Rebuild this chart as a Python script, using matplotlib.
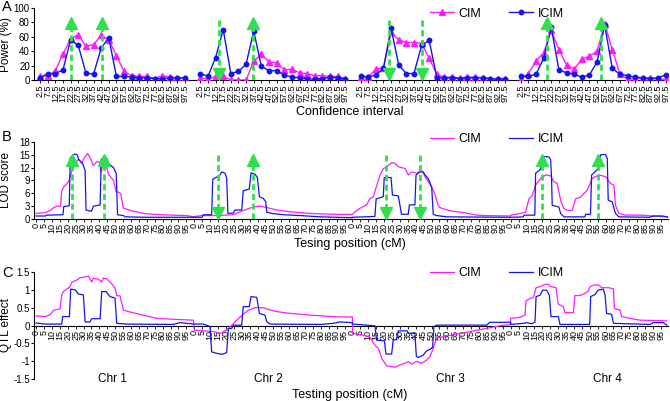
import matplotlib
matplotlib.use("Agg")
import matplotlib.pyplot as plt

plt.rcParams['font.family'] = ['Liberation Sans', 'DejaVu Sans']
plt.rcParams['axes.unicode_minus'] = False

# ---------------- data ----------------
chrom_names = ['Chr 1', 'Chr 2', 'Chr 3', 'Chr 4']
ci_labels = ['2.5', '7.5', '12.5', '17.5', '22.5', '27.5', '32.5', '37.5', '42.5', '47.5',
             '52.5', '57.5', '62.5', '67.5', '72.5', '77.5', '82.5', '87.5', '92.5', '97.5']
ci_mid = [2.5, 7.5, 12.5, 17.5, 22.5, 27.5, 32.5, 37.5, 42.5, 47.5,
          52.5, 57.5, 62.5, 67.5, 72.5, 77.5, 82.5, 87.5, 92.5, 97.5]
pos_ticks = [0, 5, 10, 15, 20, 25, 30, 35, 40, 45, 50, 55, 60, 65, 70, 75, 80, 85, 90, 95]

# power (%) per confidence interval
power_cim_chr1 = [6, 5, 13, 36, 57, 63, 47, 49, 62, 56, 34, 12, 6, 5, 5, 2, 6, 4, 3, 3]
power_cim_chr2 = [3, 1, 5, 5, 0, 0, 0, 26, 36, 25, 24, 14, 15, 10, 9, 6, 6, 5, 5, 2]
power_cim_chr3 = [4, 4, 15, 17, 66, 56, 52, 52, 51, 30, 8, 4, 4, 3, 4, 4, 3, 2, 1, 1]
power_cim_chr4 = [2, 9, 26, 38, 69, 42, 21, 15, 29, 33, 40, 78, 42, 8, 1, 2, 3, 3, 1, 1]
power_icim_chr1 = [3, 9, 9, 14, 56, 48, 10, 8, 44, 59, 5, 5, 4, 3, 3, 2, 2, 3, 3, 3]
power_icim_chr2 = [9, 5, 31, 70, 9, 12, 22, 68, 19, 13, 13, 7, 4, 3, 2, 1, 2, 4, 3, 1]
power_icim_chr3 = [6, 4, 7, 16, 72, 21, 9, 9, 48, 55, 3, 3, 3, 2, 3, 3, 3, 2, 1, 2]
power_icim_chr4 = [5, 5, 8, 30, 73, 14, 10, 8, 4, 7, 25, 76, 16, 8, 6, 4, 3, 2, 3, 7]

# LOD profiles (position cM, LOD)
lod_cim_chr1 = [(0, 1.3), (5.7, 1.5), (9, 2.0), (11, 2.6), (13, 3.0), (15.5, 3.0), (16.2, 6.5),
                (17.5, 7.5), (20.5, 8.7), (22.5, 11.0), (24, 12.5), (26.8, 14.0), (29, 13.0),
                (30, 14.0), (32.5, 15.3), (34, 14.5), (36.2, 12.5), (38.3, 13.4), (40, 13.3),
                (41, 11.0), (42.2, 12.5), (44.5, 12.4), (45.7, 10.5), (49, 9.0), (50.5, 6.5),
                (53.5, 6.0), (55.2, 2.5), (57.3, 2.3), (61.5, 1.8), (68, 1.3), (78, 1.0),
                (95, 0.8), (100, 0.5)]
lod_cim_chr2 = [(0, 0.6), (5, 0.8), (15, 0.8), (24.7, 1.0), (31, 2.0), (37.3, 2.8), (41.6, 3.0),
                (45.8, 2.7), (52.1, 2.1), (60.5, 1.7), (73.2, 1.3), (88, 1.1), (100, 1.1)]
lod_cim_chr3 = [(0, 1.1), (1.5, 1.6), (4.8, 2.5), (9, 3.3), (11, 4.7), (13.2, 5.2), (15.4, 7.9),
                (17.5, 10.3), (19.6, 11.8), (21.7, 12.2), (24.9, 13.2), (27, 13.0), (29.1, 12.2),
                (33.3, 11.8), (35.4, 10.3), (37.5, 11.0), (40.7, 10.7), (43.8, 11.4), (45.9, 9.9),
                (48, 8.7), (50.2, 7.5), (52.3, 5.6), (54.4, 2.9), (56.5, 2.5), (61.8, 1.9),
                (70.2, 1.5), (78.6, 0.9), (85, 0.8), (100, 0.7)]
lod_cim_chr4 = [(0, 0.9), (6.3, 1.3), (9.5, 1.6), (11.6, 4.7), (13.7, 5.5), (15.8, 7.9), (19, 9.5),
                (22.1, 10.3), (25.3, 10.1), (27.4, 8.7), (29.5, 8.3), (31.6, 4.4), (33.5, 2.5),
                (35.8, 2.0), (39, 2.0), (41.1, 4.7), (44.2, 5.1), (46.3, 5.9), (48.4, 6.7),
                (51.6, 9.5), (55.8, 10.3), (60, 9.9), (63.2, 8.3), (65.3, 7.9), (66.3, 3.2),
                (68.4, 1.3), (72.6, 0.9), (83.1, 0.9), (89.4, 0.7), (100, 0.5)]
lod_icim_chr1 = [(0, 0.7), (6, 0.7), (6.5, 0.9), (17, 1.0), (17.5, 2.9), (21, 3.1), (21.6, 14.3),
                 (24.5, 15.2), (26, 15.0), (27, 13.9), (29.5, 12.9), (31, 11.4), (31.6, 2.1),
                 (35, 1.8), (36.3, 3.0), (40.5, 3.3), (41.2, 14.0), (44.7, 14.2), (45.8, 13.0),
                 (49, 12.0), (50.7, 10.6), (51.5, 1.0), (55.2, 0.8), (56.5, 0.5), (70, 0.4),
                 (100, 0.4)]
lod_icim_chr2 = [(0, 0.4), (5, 0.4), (5.7, 1.0), (11, 1.0), (11.7, 9.3), (14.2, 9.8), (16, 10.2),
                 (17.4, 11.0), (19.5, 10.7), (20.5, 9.5), (21.3, 1.3), (24.7, 1.4), (25.8, 2.1),
                 (30, 2.1), (31, 6.6), (34.8, 7.0), (35.9, 10.8), (38.4, 10.5), (39.9, 9.7),
                 (41.2, 5.2), (43.7, 4.8), (45.2, 4.0), (45.8, 1.6), (49, 1.3), (56.4, 1.0),
                 (67, 0.8), (80, 0.5), (100, 0.3)]
lod_icim_chr3 = [(0, 0.4), (14.2, 0.6), (15, 4.7), (19.5, 5.2), (20.1, 9.7), (24.4, 9.7),
                 (25.3, 5.6), (29, 5.4), (30, 3.3), (31, 1.1), (35.3, 1.1), (36, 3.3), (39.5, 3.3),
                 (40.2, 10.3), (42.7, 11.0), (44.8, 11.0), (45.9, 10.3), (48, 9.4), (50.1, 7.4),
                 (51.1, 1.1), (53.2, 0.8), (60, 0.5), (100, 0.4)]
lod_icim_chr4 = [(0, 0.4), (8, 0.5), (8.5, 0.9), (15.3, 0.9), (15.8, 10.7), (18.6, 11.5),
                 (19.5, 12.5), (20.5, 14.4), (22.1, 14.6), (24.2, 14.5), (25.3, 13.9), (25.9, 9.5),
                 (26.3, 3.2), (30.5, 2.8), (31.6, 1.3), (33.7, 0.5), (47, 0.5), (47.4, 1.1),
                 (50.5, 1.1), (51.2, 10.3), (53.7, 11.1), (55.5, 12.0), (56.9, 15.0), (60, 15.1),
                 (61.1, 14.2), (61.7, 4.4), (64.2, 4.0), (66.3, 1.3), (68.4, 0.5), (88, 0.4),
                 (90, 0.7), (96, 0.7), (100, 0.4)]

# QTL effect profiles (position cM, effect)
eff_cim_chr1 = [(0, 0.27), (5.7, 0.25), (8.8, 0.3), (10.9, 0.42), (15.2, 0.47), (16.2, 0.86),
                (17.3, 0.95), (19.4, 1.02), (21.5, 1.09), (22.5, 1.21), (25.7, 1.27), (27.8, 1.34),
                (31, 1.36), (33.1, 1.39), (35.2, 1.22), (36.2, 1.32), (39.4, 1.30), (41.5, 1.22),
                (42.6, 1.33), (44.7, 1.31), (47.8, 1.17), (49.9, 1.05), (51, 0.84), (53.1, 0.83),
                (55.2, 0.43), (59.4, 0.38), (67.8, 0.29), (76.3, 0.2), (88.9, 0.17), (99.4, 0.15)]
eff_cim_chr2 = [(0, -0.13), (12.1, -0.17), (16.3, -0.22), (20.5, -0.13), (24.7, 0.05), (29, 0.24),
                (34.2, 0.43), (38.4, 0.5), (43.7, 0.5), (46.9, 0.45), (52.1, 0.39), (60.5, 0.34),
                (71.1, 0.3), (83.7, 0.26), (92.1, 0.24), (100, 0.24)]
eff_cim_chr3 = [(0, -0.22), (6.9, -0.27), (11.1, -0.33), (14.2, -0.55), (16.4, -0.64),
                (18.5, -0.92), (21.6, -1.13), (26.9, -1.17), (30, -1.11), (33.2, -1.06),
                (35.3, -1.01), (37.4, -1.08), (40.6, -1.01), (43.7, -1.06), (46.9, -0.97),
                (49, -0.87), (51.1, -0.64), (53.2, -0.36), (57.4, -0.31), (65.9, -0.24),
                (74.3, -0.17), (84.8, -0.08), (95.4, 0.01), (100, 0.02)]
eff_cim_chr4 = [(0, 0.2), (4.9, 0.22), (7, 0.25), (9.1, 0.29), (9.7, 0.69), (12.3, 0.76),
                (14.4, 0.78), (16.1, 1.06), (18.6, 1.09), (21.7, 1.15), (23.9, 1.16), (24.9, 1.1),
                (28.7, 1.06), (30.1, 0.6), (33.3, 0.53), (34.4, 0.36), (39.7, 0.36), (40.7, 0.84),
                (43.9, 0.84), (47.1, 0.9), (49.1, 0.97), (50.2, 1.09), (52.3, 1.13), (55.5, 1.14),
                (57.6, 1.06), (61.8, 1.06), (65, 1.03), (65.6, 0.48), (69.2, 0.43), (70.2, 0.25),
                (75.5, 0.2), (81.8, 0.15), (98.7, 0.13)]
eff_icim_chr1 = [(0, 0.07), (5.7, 0.04), (16.2, 0.04), (16.8, 0.25), (21.1, 0.25), (21.9, 1.02),
                 (24.7, 1.0), (26.8, 0.88), (29.9, 0.86), (31, 0.1), (34.1, 0.1), (35.2, 0.19),
                 (40.5, 0.19), (41.5, 0.95), (44.2, 0.95), (46.8, 0.81), (49.9, 0.77), (51, 0.06),
                 (57.3, 0.04), (86.8, 0.03), (91, 0.08), (95.2, 0.06), (100, 0.04)]
eff_icim_chr2 = [(0, 0.04), (5.8, 0.04), (10, -0.03), (11, -0.74), (14.2, -0.78), (17.4, -0.81),
                 (20.5, -0.76), (21.6, -0.09), (23.7, -0.08), (24.7, 0.01), (30, 0.01), (31, 0.53),
                 (34.8, 0.53), (35.9, 0.81), (39.5, 0.79), (41.2, 0.34), (44.7, 0.29),
                 (45.8, 0.11), (48, 0.04), (80, 0.03), (87.9, 0.06), (92.1, 0.1), (100, 0.08)]
eff_icim_chr3 = [(0, 0.04), (9, 0.01), (14.2, -0.01), (15.3, -0.41), (20.2, -0.43), (21.2, -0.8),
                 (24.8, -0.8), (25.8, -0.41), (28, -0.39), (29, -0.15), (34.5, -0.15),
                 (35.5, -0.22), (39.5, -0.22), (40.4, -0.86), (41.6, -0.9), (44.8, -0.83),
                 (46.9, -0.71), (49, -0.67), (50.7, -0.61), (51.5, -0.03), (53.2, 0.01),
                 (84.8, 0.01), (87, 0.09), (100, 0.09)]
eff_icim_chr4 = [(0, 0.03), (8, 0.06), (10.2, 0.08), (13.3, 0.05), (15.4, 0.09), (16.1, 0.81),
                 (18.6, 0.85), (20.3, 0.99), (22.8, 0.99), (24.5, 0.85), (25.5, 0.25), (30.2, 0.25),
                 (31.2, 0.03), (50, 0.03), (50.6, 0.81), (53.4, 0.87), (55.3, 0.99), (58.6, 1.02),
                 (59.7, 0.85), (60.7, 0.34), (63.9, 0.31), (65, 0.06), (88.1, 0.03), (90.2, 0.08),
                 (96.6, 0.08), (98.7, 0.01)]

# true QTL positions (chromosome index, cM, effect sign)
qtl_chr = [0, 0, 1, 1, 2, 2, 3, 3]
qtl_pos = [23, 43, 15, 37, 21, 43, 20, 55]
qtl_up = [True, True, False, True, False, False, True, True]
chr_label_pos = [48, 147, 262, 361]

# ---------------- style ----------------
CIM_C = '#ff1aff'
ICIM_C = '#1414ee'
GREEN = '#2fe04c'
CHR_LEN = 100
SLOT = 21  # categories per chromosome in panel A (20 + gap)


def join(curves):
    xs, ys = [], []
    for k, pts in enumerate(curves):
        for p, v in pts:
            xs.append(k * CHR_LEN + p)
            ys.append(v)
    return xs, ys


def style_axes(ax):
    ax.spines['top'].set_visible(False)
    ax.spines['right'].set_visible(False)
    ax.tick_params(axis='y', labelsize=7, length=2, width=0.8, pad=1)
    ax.tick_params(axis='x', labelsize=6.5, length=2, width=0.6, pad=1, labelrotation=90)


def qtl_arrows(ax, xfun, top, head_up, head_down):
    for c, p, up in zip(qtl_chr, qtl_pos, qtl_up):
        x = xfun(c, p)
        if up:
            ax.plot([x, x], [0, head_up], color=GREEN, lw=2, dashes=(2.2, 1.3), zorder=5)
            ax.plot([x], [head_up], marker='^', ms=8, color=GREEN, mec=GREEN, zorder=6)
        else:
            ax.plot([x, x], [top, head_down], color=GREEN, lw=2, dashes=(2.2, 1.3), zorder=5)
            ax.plot([x], [head_down], marker='v', ms=8, color=GREEN, mec=GREEN, zorder=6)


W, H = 670, 401
fig = plt.figure(figsize=(W / 100, H / 100), dpi=100)
axA = fig.add_axes([34 / W, 1 - 80 / H, 634 / W, 72 / H])
axB = fig.add_axes([34 / W, 1 - 219 / H, 634 / W, 77 / H])
axC = fig.add_axes([34 / W, 1 - 379 / H, 634 / W, 107 / H])
YLAB_X = -0.034

# ---------------- panel A ----------------
pc = [power_cim_chr1, power_cim_chr2, power_cim_chr3, power_cim_chr4]
pi = [power_icim_chr1, power_icim_chr2, power_icim_chr3, power_icim_chr4]
xticks, xlabels = [], []
for k in range(4):
    xs = [k * SLOT + j for j in range(len(ci_labels))]
    axA.plot(xs, pc[k], color=CIM_C, lw=1, marker='^', ms=4, mec=CIM_C,
             label='CIM' if k == 0 else None, zorder=3)
    axA.plot(xs, pi[k], color=ICIM_C, lw=1, marker='o', ms=3.2, mec=ICIM_C,
             label='ICIM' if k == 0 else None, zorder=4)
    xticks += xs
    xlabels += ci_labels

qtl_arrows(axA, lambda c, p: c * SLOT + (p - ci_mid[0]) / (ci_mid[1] - ci_mid[0]),
           84, 79, 8)
axA.set_xlim(-0.8, 82.3)
axA.set_ylim(0, 100)
axA.set_yticks([0, 20, 40, 60, 80, 100])
axA.set_xticks(xticks)
axA.set_xticklabels(xlabels)
style_axes(axA)
axA.set_ylabel('Power (%)', fontsize=8.5)
axA.yaxis.set_label_coords(YLAB_X, 0.5)
axA.legend(loc='center', bbox_to_anchor=(0.73, 0.92), ncol=2, frameon=False, fontsize=9,
           handlelength=1.9, handletextpad=0.4, columnspacing=2.2, borderaxespad=0)

# ---------------- panel B ----------------
bx, by = join([lod_cim_chr1, lod_cim_chr2, lod_cim_chr3, lod_cim_chr4])
axB.plot(bx, by, color=CIM_C, lw=0.9, label='CIM', zorder=3)
bx, by = join([lod_icim_chr1, lod_icim_chr2, lod_icim_chr3, lod_icim_chr4])
axB.plot(bx, by, color=ICIM_C, lw=0.9, label='ICIM', zorder=4)
qtl_arrows(axB, lambda c, p: c * CHR_LEN + p, 15, 13.9, 1.3)

gt, gl = [], []
for k in range(4):
    gt += [k * CHR_LEN + t for t in pos_ticks]
    gl += [str(t) for t in pos_ticks]
axB.set_xlim(-1.3, 399.5)
axB.set_ylim(0, 18)
axB.set_yticks([0, 3, 6, 9, 12, 15, 18])
axB.set_xticks(gt)
axB.set_xticklabels(gl)
style_axes(axB)
axB.set_ylabel('LOD score', fontsize=8.5)
axB.yaxis.set_label_coords(YLAB_X, 0.5)
axB.legend(loc='center', bbox_to_anchor=(0.73, 1.04), ncol=2, frameon=False, fontsize=9,
           handlelength=1.9, handletextpad=0.4, columnspacing=2.2, borderaxespad=0)

# ---------------- panel C ----------------
cx, cy = join([eff_cim_chr1, eff_cim_chr2, eff_cim_chr3, eff_cim_chr4])
axC.plot(cx, cy, color=CIM_C, lw=0.9, label='CIM', zorder=3)
cx, cy = join([eff_icim_chr1, eff_icim_chr2, eff_icim_chr3, eff_icim_chr4])
axC.plot(cx, cy, color=ICIM_C, lw=0.9, label='ICIM', zorder=4)
axC.set_xlim(-1.3, 399.5)
axC.set_ylim(-1.5, 1.5)
axC.set_yticks([-1.5, -1, -0.5, 0, 0.5, 1, 1.5])
axC.set_yticklabels(['-1.5', '-1', '-0.5', '0', '0.5', '1', '1.5'])
axC.set_xticks(gt)
axC.set_xticklabels(gl)
style_axes(axC)
axC.spines['bottom'].set_position(('data', 0))
for name, xp in zip(chrom_names, chr_label_pos):
    axC.text(xp, -1.5, name, fontsize=8.5, ha='center', va='center')
axC.set_ylabel('QTL effect', fontsize=8.5)
axC.yaxis.set_label_coords(YLAB_X, 0.5)
axC.legend(loc='center', bbox_to_anchor=(0.73, 0.99), ncol=2, frameon=False, fontsize=9,
           handlelength=1.9, handletextpad=0.4, columnspacing=2.2, borderaxespad=0)

# ---------------- figure text ----------------
fig.text(350 / W, 1 - 112 / H, 'Confidence interval', fontsize=9, ha='center', va='center')
fig.text(350 / W, 1 - 244 / H, 'Tesing position (cM)', fontsize=9, ha='center', va='center')
fig.text(350 / W, 1 - 395 / H, 'Testing position (cM)', fontsize=9, ha='center', va='center')
fig.text(2 / W, 1 - 7 / H, 'A', fontsize=10.5, ha='left', va='center')
fig.text(2 / W, 1 - 137 / H, 'B', fontsize=10.5, ha='left', va='center')
fig.text(2 / W, 1 - 273 / H, 'C', fontsize=10.5, ha='left', va='center')

fig.savefig('out.png', dpi=100)
